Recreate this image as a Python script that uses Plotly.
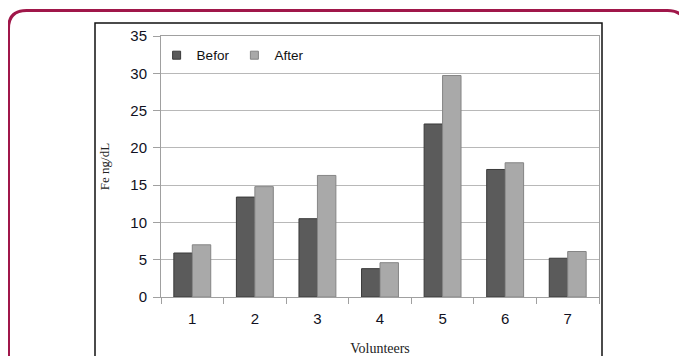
import plotly.graph_objects as go

volunteers = ["1", "2", "3", "4", "5", "6", "7"]
befor = [5.9, 13.4, 10.5, 3.8, 23.2, 17.1, 5.2]
after = [7.0, 14.8, 16.3, 4.6, 29.7, 18.0, 6.1]
y_ticks = [0, 5, 10, 15, 20, 25, 30, 35]

OFF = 8  # page body margin
W, H = 687 - OFF, 356 - OFF
L, R, T, B = 161 - OFF, 599 - OFF, 36 - OFF, 296.7 - OFF
pw, ph = R - L, B - T

def px(x):
    return (x - OFF - L) / pw

def py(y):
    return (B - (y - OFF)) / ph

def rounded_rect(x0, y0, x1, y1, r):
    pts = [
        f"M {px(x0 + r)} {py(y0)}",
        f"L {px(x1 - r)} {py(y0)}",
        f"Q {px(x1)} {py(y0)} {px(x1)} {py(y0 + r)}",
        f"L {px(x1)} {py(y1 - r)}",
        f"Q {px(x1)} {py(y1)} {px(x1 - r)} {py(y1)}",
        f"L {px(x0 + r)} {py(y1)}",
        f"Q {px(x0)} {py(y1)} {px(x0)} {py(y1 - r)}",
        f"L {px(x0)} {py(y0 + r)}",
        f"Q {px(x0)} {py(y0)} {px(x0 + r)} {py(y0)}",
        "Z",
    ]
    return " ".join(pts)

befor_color, after_color = "#5b5b5b", "#a9a9a9"

fig = go.Figure()
fig.add_trace(go.Bar(
    x=volunteers, y=befor, name="Befor", showlegend=False,
    marker=dict(color=befor_color, line=dict(color="#3a3a3a", width=1)),
))
fig.add_trace(go.Bar(
    x=volunteers, y=after, name="After", showlegend=False,
    marker=dict(color=after_color, line=dict(color="#858585", width=1)),
))
# legend entries with small square swatches
for name, col, edge in [("Befor", befor_color, "#3a3a3a"), ("After", after_color, "#858585")]:
    fig.add_trace(go.Scatter(
        x=[None], y=[None], mode="markers", name=name,
        marker=dict(symbol="square", size=8, color=col, line=dict(color=edge, width=1)),
    ))

fig.update_layout(
    width=W, height=H,
    margin=dict(l=L, r=W - R, t=T, b=H - B, pad=0, autoexpand=False),
    paper_bgcolor="white", plot_bgcolor="white",
    barmode="group", bargap=0.41, bargroupgap=0,
    font=dict(family="Liberation Sans, Arial", size=15, color="#111122"),
    showlegend=True,
    legend=dict(orientation="h", x=-0.01, y=0.985, xanchor="left", yanchor="top",
                font=dict(size=13.5, color="#111111"), bgcolor="rgba(0,0,0,0)",
                itemwidth=30, traceorder="normal", tracegroupgap=0),
    shapes=[
        dict(type="path", xref="paper", yref="paper",
             path=rounded_rect(8.5, 10.5, 685.5, 380, 18),
             line=dict(color="#a0174a", width=3), layer="below"),
        dict(type="rect", xref="paper", yref="paper",
             x0=px(95), x1=px(602), y0=py(380), y1=py(23),
             line=dict(color="#111111", width=1.5), layer="below"),
    ],
)

fig.update_yaxes(
    range=[0, 35], tickvals=y_ticks, showgrid=True, gridcolor="#b8b8b8", gridwidth=1,
    showline=True, linecolor="#a0a0a0", linewidth=1, mirror=True,
    ticks="outside", ticklen=7, tickcolor="#a0a0a0", zeroline=False,
    ticklabelstandoff=3, automargin=False,
    tickfont=dict(size=15),
    title=dict(text="Fe ng/dL", font=dict(family="Liberation Serif, Times New Roman", size=13, color="#222222"),
               standoff=17),
)
fig.update_xaxes(
    showline=True, linecolor="#a0a0a0", linewidth=1, mirror=True,
    ticks="outside", tickson="boundaries", ticklen=6, tickcolor="#a0a0a0",
    ticklabelstandoff=8, automargin=False,
    tickfont=dict(size=15),
    title=dict(text="Volunteers", font=dict(family="Liberation Serif, Times New Roman", size=14, color="#222222"),
               standoff=18),
)

fig.write_html("out.html")
